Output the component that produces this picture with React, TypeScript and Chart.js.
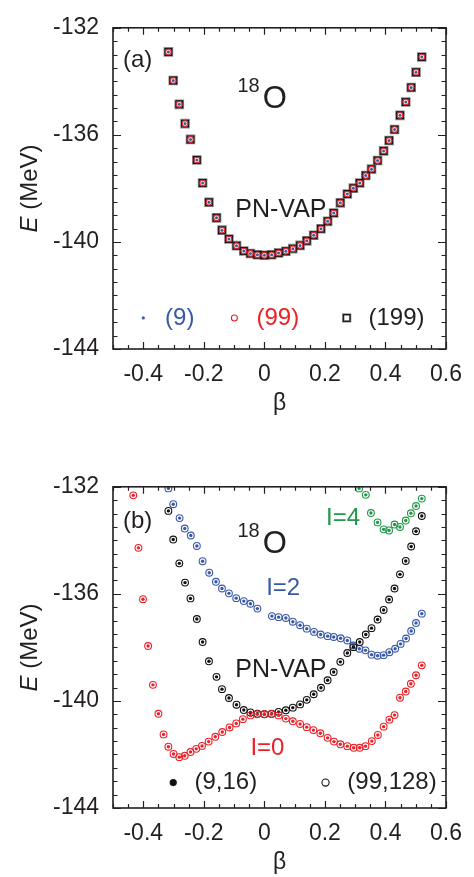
import React, { useEffect, useRef } from 'react';
import { Chart, registerables } from 'chart.js';

Chart.register(...registerables);

const FONT = '"Liberation Sans", Arial, Helvetica, sans-serif';
const TEXT = '#231f20';
const BLUE = '#3a5aa8';
const RED = '#ea2229';
const GREEN = '#23984a';

// ---------- data ----------
// PN-VAP (panel a: (9), (99), (199) ; panel b: black series)
const PNVAP_BETA = [-0.317, -0.301, -0.281, -0.262, -0.244, -0.223, -0.204, -0.183, -0.158, -0.140, -0.117, -0.092, -0.068, -0.046, -0.023, 0, 0.024, 0.047, 0.071, 0.094, 0.118, 0.140, 0.163, 0.187, 0.209, 0.229, 0.251, 0.274, 0.294, 0.315, 0.335, 0.354, 0.374, 0.394, 0.412, 0.430, 0.448, 0.467, 0.485, 0.501, 0.520];
const PNVAP_E = [-132.90, -133.97, -134.86, -135.58, -136.17, -136.94, -137.80, -138.52, -139.10, -139.56, -139.89, -140.14, -140.34, -140.43, -140.48, -140.50, -140.48, -140.41, -140.35, -140.25, -140.13, -139.96, -139.75, -139.51, -139.23, -138.92, -138.54, -138.21, -137.99, -137.80, -137.52, -137.28, -136.96, -136.60, -136.21, -135.80, -135.27, -134.77, -134.23, -133.66, -133.09];

// I=0
const I0_BETA = [-0.433, -0.416, -0.401, -0.384, -0.368, -0.350, -0.333, -0.317, -0.300, -0.281, -0.263, -0.244, -0.225, -0.206, -0.184, -0.162, -0.139, -0.115, -0.093, -0.071, -0.046, -0.024, 0, 0.023, 0.047, 0.071, 0.094, 0.118, 0.140, 0.162, 0.185, 0.209, 0.230, 0.251, 0.274, 0.295, 0.315, 0.334, 0.355, 0.375, 0.394, 0.413, 0.430, 0.448, 0.467, 0.484, 0.501, 0.520];
const I0_E = [-132.32, -134.28, -136.20, -137.95, -139.40, -140.48, -141.25, -141.71, -141.98, -142.10, -142.05, -141.91, -141.79, -141.68, -141.52, -141.34, -141.16, -140.99, -140.84, -140.68, -140.54, -140.50, -140.49, -140.49, -140.54, -140.66, -140.76, -140.86, -140.98, -141.09, -141.21, -141.38, -141.52, -141.62, -141.69, -141.75, -141.75, -141.69, -141.50, -141.27, -140.96, -140.70, -140.53, -139.88, -139.65, -139.36, -139.04, -138.67];

// I=2
const I2_BETA = [-0.317, -0.301, -0.280, -0.263, -0.243, -0.223, -0.204, -0.182, -0.160, -0.140, -0.117, -0.093, -0.068, -0.046, -0.023, 0.025, 0.047, 0.071, 0.094, 0.118, 0.140, 0.164, 0.186, 0.209, 0.229, 0.252, 0.274, 0.294, 0.314, 0.334, 0.354, 0.374, 0.394, 0.413, 0.432, 0.450, 0.468, 0.485, 0.501, 0.520];
const I2_E = [-132.06, -132.65, -133.17, -133.56, -133.82, -134.21, -134.78, -135.21, -135.55, -135.80, -135.98, -136.16, -136.27, -136.37, -136.55, -136.83, -136.87, -136.90, -137.04, -137.17, -137.30, -137.42, -137.52, -137.58, -137.61, -137.66, -137.74, -137.93, -138.05, -138.11, -138.27, -138.31, -138.29, -138.18, -138.05, -137.87, -137.67, -137.39, -137.09, -136.74];

// I=4
const I4_BETA = [0.313, 0.335, 0.352, 0.374, 0.394, 0.412, 0.430, 0.448, 0.467, 0.484, 0.501, 0.520];
const I4_E = [-132.06, -132.30, -132.98, -133.33, -133.59, -133.63, -133.41, -133.50, -133.26, -132.99, -132.72, -132.44];

const X_TICK_LABELS = ['-0.4', '-0.2', '0', '0.2', '0.4', '0.6'];
const Y_TICK_LABELS = ['-132', '-136', '-140', '-144'];
const X_MIN = -0.5;
const X_MAX = 0.6;
const Y_MIN = -144;
const Y_MAX = -132;

// ---------- helpers ----------
const pts = (bs: number[], es: number[]) => bs.map((b, i) => ({ x: b, y: es[i] }));
const isMult = (v: number, step: number) => {
  const r = v / step;
  return Math.abs(r - Math.round(r)) < 1e-6;
};

type Ann =
  | { kind: 'text'; text: string; b: number; e: number; color: string; size: number; baseline: CanvasTextBaseline }
  | { kind: 'iso'; b: number; e: number }
  | { kind: 'marker'; shape: 'dot' | 'ring' | 'square'; b: number; e: number; color: string; r: number };

function drawMarker(ctx: CanvasRenderingContext2D, shape: string, x: number, y: number, color: string, r: number) {
  ctx.save();
  if (shape === 'dot') {
    ctx.fillStyle = color;
    ctx.beginPath();
    ctx.arc(x, y, r, 0, Math.PI * 2);
    ctx.fill();
  } else if (shape === 'ring') {
    ctx.strokeStyle = color;
    ctx.lineWidth = 1.1;
    ctx.beginPath();
    ctx.arc(x, y, r, 0, Math.PI * 2);
    ctx.stroke();
  } else {
    ctx.strokeStyle = '#8a8a8a';
    ctx.lineWidth = 2.4;
    ctx.strokeRect(x - r, y - r, 2 * r, 2 * r);
    ctx.strokeStyle = color;
    ctx.lineWidth = 1.1;
    ctx.strokeRect(x - r, y - r, 2 * r, 2 * r);
  }
  ctx.restore();
}

function decorPlugin(anns: Ann[]) {
  return {
    id: 'decor',
    afterDraw(chart: any) {
      const { ctx, chartArea } = chart;
      const { left, right, top, bottom } = chartArea;
      const xs = chart.scales.x;
      const ys = chart.scales.y;
      ctx.save();
      // inward ticks on all sides
      ctx.strokeStyle = TEXT;
      ctx.lineWidth = 1.2;
      ctx.beginPath();
      for (const t of xs.ticks) {
        const px = Math.round(xs.getPixelForValue(t.value)) + 0.5;
        const L = isMult(t.value, 0.2) ? 7 : 4;
        ctx.moveTo(px, bottom);
        ctx.lineTo(px, bottom - L);
        ctx.moveTo(px, top);
        ctx.lineTo(px, top + L);
      }
      for (const t of ys.ticks) {
        const py = Math.round(ys.getPixelForValue(t.value)) + 0.5;
        const L = isMult(t.value, 4) ? 8 : 4.5;
        ctx.moveTo(left, py);
        ctx.lineTo(left + L, py);
        ctx.moveTo(right, py);
        ctx.lineTo(right - L, py);
      }
      ctx.stroke();
      // frame
      ctx.lineWidth = 1.6;
      ctx.strokeRect(left, top, right - left, bottom - top);

      // y-axis title: E (MeV)
      ctx.save();
      ctx.translate(30, (top + bottom) / 2);
      ctx.rotate(-Math.PI / 2);
      ctx.fillStyle = TEXT;
      ctx.textBaseline = 'middle';
      ctx.textAlign = 'left';
      ctx.font = `italic 24px ${FONT}`;
      const w1 = ctx.measureText('E').width;
      ctx.font = `24px ${FONT}`;
      const w2 = ctx.measureText(' (MeV)').width;
      const start = -(w1 + w2) / 2;
      ctx.font = `italic 24px ${FONT}`;
      ctx.fillText('E', start, 0);
      ctx.font = `24px ${FONT}`;
      ctx.fillText(' (MeV)', start + w1, 0);
      ctx.restore();

      // annotations and legends
      for (const a of anns) {
        const px = xs.getPixelForValue(a.b);
        const py = ys.getPixelForValue(a.e);
        if (a.kind === 'text') {
          ctx.fillStyle = a.color;
          ctx.font = `${a.size}px ${FONT}`;
          ctx.textAlign = 'left';
          ctx.textBaseline = a.baseline;
          ctx.fillText(a.text, px, py);
        } else if (a.kind === 'iso') {
          ctx.fillStyle = TEXT;
          ctx.textAlign = 'left';
          ctx.textBaseline = 'alphabetic';
          ctx.font = `20px ${FONT}`;
          const ws = ctx.measureText('18').width;
          ctx.fillText('18', px, py - 16);
          ctx.font = `31px ${FONT}`;
          ctx.fillText('O', px + ws + 3, py);
        } else {
          drawMarker(ctx, a.shape, px, py, a.color, a.r);
        }
      }
      ctx.restore();
    },
  };
}

function makeOptions() {
  return {
    responsive: false,
    animation: false as const,
    events: [],
    layout: { padding: { top: 16, right: 28, bottom: 0, left: 0 } },
    plugins: { legend: { display: false }, tooltip: { enabled: false } },
    scales: {
      x: {
        type: 'linear' as const,
        min: X_MIN,
        max: X_MAX,
        afterFit: (s: any) => {
          s.height = 69;
        },
        grid: { display: false, drawTicks: false },
        border: { display: false },
        ticks: {
          stepSize: 0.05,
          autoSkip: false,
          maxRotation: 0,
          minRotation: 0,
          padding: 12,
          color: TEXT,
          font: { family: FONT, size: 23 },
          callback: (v: any) => {
            const n = Number(v);
            if (!isMult(n, 0.2)) return '';
            const s = String(Math.round(n * 10) / 10);
            return X_TICK_LABELS.includes(s) ? s : '';
          },
        },
        title: {
          display: true,
          text: 'β',
          color: TEXT,
          font: { family: FONT, size: 23 },
          padding: { top: 0, bottom: 1 },
        },
      },
      y: {
        type: 'linear' as const,
        min: Y_MIN,
        max: Y_MAX,
        afterFit: (s: any) => {
          s.width = 113;
        },
        grid: { display: false, drawTicks: false },
        border: { display: false },
        ticks: {
          stepSize: 0.5,
          autoSkip: false,
          padding: 14,
          color: TEXT,
          font: { family: FONT, size: 23 },
          callback: (v: any) => {
            const n = Number(v);
            if (!isMult(n, 4)) return '';
            const s = String(Math.round(n));
            return Y_TICK_LABELS.includes(s) ? s : '';
          },
        },
      },
    },
  };
}

function datasetsA() {
  const d = pts(PNVAP_BETA, PNVAP_E);
  return [
    { label: '(9)', data: d, pointStyle: 'circle', pointRadius: 1.5, backgroundColor: BLUE, borderColor: BLUE, borderWidth: 0, order: 0 },
    { label: '(99)', data: d, pointStyle: 'circle', pointRadius: 2.8, backgroundColor: 'rgba(0,0,0,0)', borderColor: RED, borderWidth: 1.1, order: 1 },
    { label: '(199)', data: d, pointStyle: 'rect', pointRadius: 4.8, backgroundColor: 'rgba(0,0,0,0)', borderColor: '#151515', borderWidth: 1.2, order: 2 },
    { label: '(199) shade', data: d, pointStyle: 'rect', pointRadius: 5.1, backgroundColor: 'rgba(0,0,0,0)', borderColor: '#8a8a8a', borderWidth: 2.4, order: 3 },
  ];
}

function seriesB(label: string, bs: number[], es: number[], color: string, base: number) {
  const d = pts(bs, es);
  return [
    { label: label + ' (9,16)', data: d, pointStyle: 'circle', pointRadius: 1.7, backgroundColor: color, borderColor: color, borderWidth: 0, order: base, clip: 0 },
    { label: label + ' (99,128)', data: d, pointStyle: 'circle', pointRadius: 3.4, backgroundColor: 'rgba(0,0,0,0)', borderColor: color, borderWidth: 1.1, order: base + 1, clip: 0 },
  ];
}

function datasetsB() {
  return [
    ...seriesB('I=0', I0_BETA, I0_E, RED, 0),
    ...seriesB('PN-VAP', PNVAP_BETA, PNVAP_E, '#111111', 2),
    ...seriesB('I=2', I2_BETA, I2_E, BLUE, 4),
    ...seriesB('I=4', I4_BETA, I4_E, GREEN, 6),
  ];
}

const ANN_A: Ann[] = [
  { kind: 'text', text: '(a)', b: -0.467, e: -133.23, color: TEXT, size: 24, baseline: 'middle' },
  { kind: 'iso', b: -0.089, e: -134.99 },
  { kind: 'text', text: 'PN-VAP', b: -0.096, e: -139.05, color: TEXT, size: 25, baseline: 'alphabetic' },
  { kind: 'marker', shape: 'dot', b: -0.40, e: -142.84, color: BLUE, r: 1.6 },
  { kind: 'text', text: '(9)', b: -0.328, e: -142.84, color: BLUE, size: 24, baseline: 'middle' },
  { kind: 'marker', shape: 'ring', b: -0.099, e: -142.84, color: RED, r: 3 },
  { kind: 'text', text: '(99)', b: -0.026, e: -142.84, color: RED, size: 24, baseline: 'middle' },
  { kind: 'marker', shape: 'square', b: 0.272, e: -142.84, color: '#151515', r: 3.4 },
  { kind: 'text', text: '(199)', b: 0.344, e: -142.84, color: TEXT, size: 24, baseline: 'middle' },
];

const ANN_B: Ann[] = [
  { kind: 'text', text: '(b)', b: -0.467, e: -133.30, color: TEXT, size: 24, baseline: 'middle' },
  { kind: 'iso', b: -0.089, e: -134.49 },
  { kind: 'text', text: 'I=2', b: 0.006, e: -136.03, color: BLUE, size: 24, baseline: 'alphabetic' },
  { kind: 'text', text: 'I=4', b: 0.204, e: -133.43, color: GREEN, size: 24, baseline: 'alphabetic' },
  { kind: 'text', text: 'PN-VAP', b: -0.096, e: -139.09, color: TEXT, size: 25, baseline: 'alphabetic' },
  { kind: 'text', text: 'I=0', b: -0.046, e: -142.03, color: RED, size: 24, baseline: 'alphabetic' },
  { kind: 'marker', shape: 'dot', b: -0.301, e: -143.05, color: '#111111', r: 3.6 },
  { kind: 'text', text: '(9,16)', b: -0.231, e: -143.05, color: TEXT, size: 24, baseline: 'middle' },
  { kind: 'marker', shape: 'ring', b: 0.202, e: -143.05, color: '#111111', r: 3.6 },
  { kind: 'text', text: '(99,128)', b: 0.274, e: -143.05, color: TEXT, size: 24, baseline: 'middle' },
];

function Panel({ top, datasets, anns }: { top: number; datasets: any[]; anns: Ann[] }) {
  const ref = useRef<HTMLCanvasElement | null>(null);
  useEffect(() => {
    if (!ref.current) return;
    const chart = new Chart(ref.current, {
      type: 'scatter',
      data: { datasets },
      options: makeOptions() as any,
      plugins: [decorPlugin(anns)],
    } as any);
    return () => chart.destroy();
  }, []);
  return (
    <canvas
      ref={ref}
      width={474}
      height={418}
      style={{ position: 'absolute', left: 0, top, width: 474, height: 418 }}
    />
  );
}

export default function App() {
  return (
    <div
      style={{
        position: 'absolute',
        left: 0,
        top: 0,
        width: 474,
        height: 877,
        background: '#ffffff',
        overflow: 'hidden',
      }}
    >
      <Panel top={0} datasets={datasetsA()} anns={ANN_A} />
      <Panel top={459} datasets={datasetsB()} anns={ANN_B} />
    </div>
  );
}
